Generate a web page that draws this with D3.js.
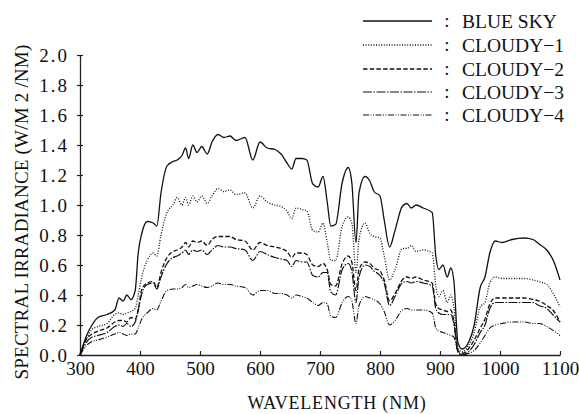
<!DOCTYPE html>
<html>
<head>
<meta charset="utf-8">
<script src="https://cdn.jsdelivr.net/npm/d3@7/dist/d3.min.js"></script>
<style>
html,body{margin:0;padding:0;background:#fff;}
svg{display:block;}
text{font-family:"Liberation Serif","DejaVu Serif",serif;fill:#111;}
</style>
</head>
<body>
<svg id="chart" width="579" height="414"></svg>
<script>
const wavelengths = [300,310,320,330,345,358,365,372,378,385,392,397,403,412,422,428,435,445,455,462,470,476,481,488,495,503,512,520,530,540,550,560,575,588,600,612,625,635,645,653,660,670,678,688,697,705,712,718,726,737,747,753,760,765,775,783,790,800,807,816,825,837,845,852,860,872,887,893,898,905,912,918,923,930,937,947,957,967,975,983,992,1003,1020,1040,1055,1065,1078,1090,1100];

const blueSky = [0,0.12,0.20,0.25,0.27,0.30,0.38,0.36,0.40,0.37,0.43,0.68,0.81,0.89,0.88,0.86,1.08,1.26,1.29,1.30,1.33,1.38,1.31,1.40,1.35,1.39,1.34,1.42,1.47,1.45,1.46,1.43,1.45,1.30,1.42,1.38,1.37,1.34,1.28,1.24,1.31,1.31,1.30,1.14,1.12,1.19,1.02,0.86,0.87,1.15,1.25,1.15,0.75,1.08,1.19,1.16,1.09,1.06,0.90,0.72,0.83,0.99,1.01,0.98,1.00,0.98,0.95,0.66,0.57,0.60,0.52,0.58,0.50,0.08,0.04,0.08,0.20,0.45,0.52,0.68,0.76,0.75,0.77,0.78,0.77,0.74,0.70,0.62,0.50];

const cloudy1 = [0,0.10,0.17,0.19,0.21,0.27,0.28,0.27,0.28,0.29,0.31,0.40,0.52,0.63,0.68,0.66,0.80,0.95,1.00,1.05,1.00,1.05,1.00,1.06,1.02,1.06,1.01,1.06,1.11,1.09,1.10,1.07,1.08,0.98,1.06,1.02,1.00,0.99,0.96,0.91,0.98,0.97,0.96,0.83,0.82,0.88,0.75,0.63,0.63,0.86,0.92,0.88,0.55,0.77,0.88,0.81,0.79,0.78,0.66,0.50,0.57,0.71,0.71,0.73,0.69,0.70,0.68,0.46,0.39,0.43,0.35,0.40,0.32,0.05,0.02,0.06,0.15,0.32,0.35,0.48,0.52,0.51,0.51,0.51,0.50,0.49,0.47,0.40,0.32];

const cloudy2 = [0,0.10,0.14,0.16,0.18,0.22,0.23,0.23,0.22,0.25,0.24,0.30,0.44,0.48,0.49,0.45,0.55,0.65,0.69,0.70,0.72,0.75,0.72,0.76,0.75,0.76,0.73,0.77,0.79,0.79,0.79,0.77,0.76,0.70,0.75,0.73,0.72,0.71,0.69,0.65,0.68,0.68,0.67,0.60,0.59,0.61,0.57,0.47,0.46,0.61,0.66,0.62,0.43,0.57,0.62,0.61,0.58,0.56,0.50,0.36,0.41,0.50,0.52,0.51,0.52,0.50,0.48,0.34,0.31,0.30,0.29,0.30,0.23,0.03,0.01,0.04,0.10,0.18,0.24,0.34,0.38,0.38,0.38,0.38,0.37,0.36,0.33,0.29,0.22];

const cloudy3 = [0,0.08,0.12,0.13,0.15,0.19,0.20,0.19,0.21,0.19,0.22,0.30,0.41,0.47,0.48,0.44,0.52,0.61,0.65,0.66,0.68,0.70,0.67,0.70,0.69,0.70,0.67,0.70,0.73,0.72,0.72,0.71,0.70,0.63,0.69,0.67,0.65,0.64,0.63,0.59,0.63,0.62,0.62,0.53,0.52,0.55,0.55,0.42,0.40,0.57,0.61,0.56,0.35,0.52,0.60,0.59,0.56,0.53,0.48,0.33,0.39,0.48,0.49,0.48,0.49,0.48,0.46,0.31,0.28,0.27,0.27,0.27,0.21,0.02,0.00,0.02,0.07,0.15,0.20,0.31,0.35,0.35,0.35,0.35,0.35,0.33,0.31,0.26,0.22];

const cloudy4 = [0,0.06,0.09,0.10,0.12,0.14,0.15,0.14,0.13,0.14,0.14,0.18,0.24,0.28,0.31,0.30,0.36,0.43,0.44,0.44,0.45,0.47,0.45,0.46,0.47,0.46,0.45,0.46,0.48,0.47,0.47,0.46,0.45,0.40,0.43,0.43,0.41,0.41,0.40,0.38,0.40,0.39,0.38,0.35,0.33,0.35,0.34,0.26,0.25,0.35,0.39,0.36,0.21,0.33,0.39,0.38,0.37,0.34,0.29,0.20,0.23,0.30,0.31,0.30,0.30,0.30,0.28,0.18,0.16,0.15,0.14,0.13,0.12,0.02,0.00,0.01,0.03,0.08,0.13,0.18,0.20,0.21,0.22,0.22,0.21,0.21,0.19,0.16,0.13];

const seriesNames = ["BLUE SKY","CLOUDY\u22121","CLOUDY\u22122","CLOUDY\u22123","CLOUDY\u22124"];
const seriesValues = [blueSky, cloudy1, cloudy2, cloudy3, cloudy4];
const xTicks = [300,400,500,600,700,800,900,1000,1100];
const yTicks = [0,0.2,0.4,0.6,0.8,1.0,1.2,1.4,1.6,1.8,2.0];

const dashes = [null, "1,1.6", "4.5,2.2", "9,1.5,1.5,1.5", "6,1.5,1,1.5,1,1.5"];
const widths = [1.3, 1.3, 1.3, 1.2, 1.1];

const svg = d3.select("#chart");
const x = d3.scaleLinear().domain([300,1100]).range([80,560]);
const y = d3.scaleLinear().domain([0,2]).range([355,55]);

// X axis
const gx = svg.append("g").attr("transform","translate(0,355)")
  .call(d3.axisBottom(x).tickValues(xTicks).tickSizeInner(-4).tickSizeOuter(0).tickPadding(8).tickFormat(d3.format("d")));
gx.select(".domain").attr("stroke","#222").attr("stroke-width",1.4);
gx.selectAll(".tick line").attr("stroke","#222").attr("stroke-width",1.2);
gx.selectAll(".tick text").attr("font-family","Liberation Serif").attr("font-size",19).attr("fill","#111")
  .attr("y",20).attr("dy",0);

// Y axis
const gy = svg.append("g").attr("transform","translate(80,0)")
  .call(d3.axisLeft(y).tickValues(yTicks).tickSizeInner(3).tickSizeOuter(0).tickPadding(8).tickFormat(d3.format(".1f")));
gy.select(".domain").attr("stroke","#222").attr("stroke-width",1.3);
gy.selectAll(".tick line").attr("x1",3).attr("x2",-3).attr("stroke","#222").attr("stroke-width",1.2);
gy.selectAll(".tick text").attr("font-family","Liberation Serif").attr("font-size",19).attr("fill","#111")
  .attr("letter-spacing","2").attr("dy","0.33em");

// Axis titles
svg.append("text").attr("x",337).attr("y",409).attr("text-anchor","middle")
  .attr("font-size",18).attr("letter-spacing","0.8").text("WAVELENGTH (NM)");
svg.append("text").attr("transform","translate(28,212) rotate(-90)").attr("text-anchor","middle")
  .attr("font-size",19).attr("letter-spacing","0.2").text("SPECTRAL IRRADIANCE (W/M 2 /NM)");

// Lines
const line = d3.line().x(d => x(d[0])).y(d => y(d[1])).curve(d3.curveMonotoneX);
seriesValues.forEach((vals, i) => {
  const data = wavelengths.map((w, j) => [w, vals[j]]);
  svg.append("path").datum(data).attr("d", line)
    .attr("fill","none").attr("stroke","#111").attr("stroke-width",widths[i])
    .attr("stroke-dasharray", dashes[i]).attr("stroke-linejoin","round");
});

// Legend
const legY = [21,45,69,92,115];
seriesNames.forEach((name, i) => {
  svg.append("line").attr("x1",363).attr("x2",432).attr("y1",legY[i]).attr("y2",legY[i])
    .attr("stroke","#111").attr("stroke-width",widths[i]).attr("stroke-dasharray",dashes[i]);
  svg.append("text").attr("x",447).attr("y",legY[i]).attr("dy","0.34em").attr("text-anchor","middle")
    .attr("font-size",19).text(":");
  svg.append("text").attr("x",462).attr("y",legY[i]).attr("dy","0.34em")
    .attr("font-size",19.5).text(name);
});
</script>
</body>
</html>
